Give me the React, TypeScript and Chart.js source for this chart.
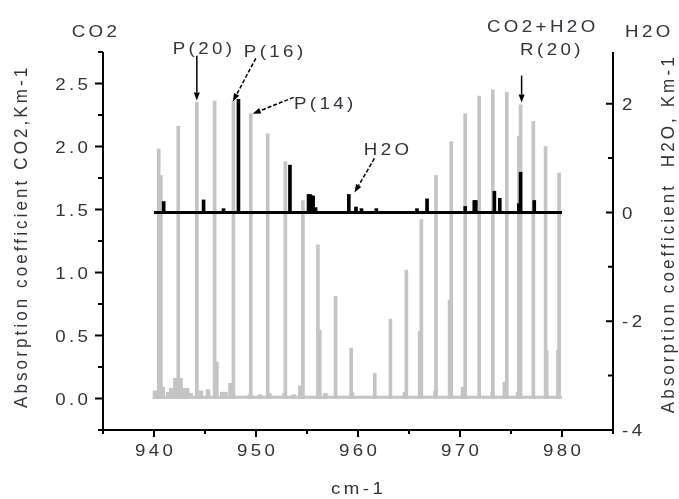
import React, { useEffect, useRef } from 'react';
import { Chart, registerables } from 'chart.js';

Chart.register(...registerables);

// ---- CO2 (left axis) : main absorption lines ----
const CO2_LINE_WN = [940.46, 942.38, 944.2, 945.94, 947.79, 949.49, 951.15, 952.88, 954.6, 956.07, 957.8, 959.33, 961.64, 963.18, 964.74, 966.21, 967.65, 969.14, 970.51, 971.88, 973.22, 974.59, 975.94, 977.19, 978.39, 979.71];
const CO2_LINE_VAL = [1.98, 2.16, 2.35, 2.36, 2.36, 2.26, 2.1, 1.88, 1.57, 1.22, 0.81, 0.4, 0.2, 0.63, 1.02, 1.42, 1.77, 2.04, 2.26, 2.4, 2.45, 2.43, 2.33, 2.2, 2.0, 1.79];
// weaker neighbouring lines (shoulders)
const CO2_SHOULDER_WN = [940.68, 946.16, 956.26, 966.04, 968.98, 975.77, 978.5, 979.6];
const CO2_SHOULDER_VAL = [1.77, 0.29, 0.54, 0.53, 0.78, 2.08, 0.38, 0.38];
// weak bumps on the baseline
const CO2_BUMP_WN = [940.1, 940.85, 941.4, 941.7, 942.1, 942.6, 942.95, 943.25, 943.6, 944.6, 945.3, 946.7, 947.0, 947.5, 949.4, 950.4, 951.3, 952.8, 953.7, 954.35, 956.8, 959.4, 964.6, 967.6, 970.3, 973.2, 974.4, 975.7];
const CO2_BUMP_VAL = [0.06, 0.09, 0.05, 0.08, 0.16, 0.16, 0.08, 0.08, 0.04, 0.06, 0.07, 0.05, 0.05, 0.12, 0.03, 0.03, 0.04, 0.04, 0.03, 0.1, 0.04, 0.05, 0.05, 0.06, 0.09, 0.05, 0.13, 0.05];
const CO2_BASE_WN = [940, 980];
const CO2_BASE_VAL = [0.01, 0.01];

// ---- H2O (right axis) ----
const H2O_LINE_WN = [940.95, 944.86, 946.82, 948.28, 953.33, 955.15, 955.3, 955.45, 955.6, 955.84, 959.1, 959.8, 960.34, 961.8, 965.78, 966.77, 970.51, 971.4, 971.55, 973.37, 973.9, 975.77, 975.94, 977.28];
const H2O_LINE_VAL = [0.2, 0.23, 0.07, 2.08, 0.87, 0.33, 0.33, 0.31, 0.3, 0.09, 0.33, 0.1, 0.07, 0.07, 0.07, 0.25, 0.11, 0.22, 0.22, 0.39, 0.26, 0.16, 0.74, 0.22];
const H2O_BASE_WN = [940, 980];
const H2O_BASE_VAL = [0, 0];

// ---- ticks ----
const CO2_TICKS = [0, 0.5, 1, 1.5, 2, 2.5];
const CO2_TICK_LABELS = ['0.0', '0.5', '1.0', '1.5', '2.0', '2.5'];
const CO2_MINOR = [-0.25, 0.25, 0.75, 1.25, 1.75, 2.25, 2.75];
const H2O_TICKS = [-4, -2, 0, 2];
const H2O_TICK_LABELS = ['-4', '-2', '0', '2'];
const H2O_MINOR = [-3, -1, 1];
const WN_TICKS = [940, 950, 960, 970, 980];
const WN_TICK_LABELS = ['940', '950', '960', '970', '980'];
const WN_MINOR = [935, 945, 955, 965, 975, 985];

// ---- text ----
const X_TITLE = 'cm-1';
const Y_TITLE = 'Absorption coefficient CO2,Km-1';
const Y1_TITLE = 'Absorption coefficient  H2O, Km-1';
const Y_HEAD = 'CO2';
const Y1_HEAD = 'H2O';

// annotations (left edge / baseline in data coordinates: wavenumber, CO2 axis value)
const NOTE_TEXT = ['P(20)', 'P(16)', 'P(14)', 'H2O', 'CO2+H2O', 'R(20)'];
const NOTE_X = [941.83, 948.8, 953.72, 960.57, 972.64, 975.89];
const NOTE_Y = [2.734, 2.714, 2.294, 1.933, 2.909, 2.73];
const ARROW_FROM = [[944.2, 2.72], [949.98, 2.7], [953.69, 2.39], [961.61, 1.905], [976.04, 2.563]];
const ARROW_TO = [[944.2, 2.365], [947.73, 2.357], [949.68, 2.26], [959.66, 1.635], [976.04, 2.35]];
const ARROW_DASHED = [false, true, true, true, false];

const GRAY = '#c4c4c4';
const TEXT = '#33333d';
const FAMILY = '"Liberation Sans", Arial, sans-serif';
const FONT = `17px ${FAMILY}`;
const SPACING = 3.1;
const STRETCH = 1.1;

const pts = (xs: number[], ys: number[]) => xs.map((x, i) => ({ x, y: ys[i] }));

const decor = {
  id: 'decor',
  afterDraw(chart: any) {
    const { ctx, chartArea: a, scales } = chart;
    const sx = scales.x, sy = scales.y, sy1 = scales.y1;
    ctx.save();
    ctx.strokeStyle = '#000';
    ctx.lineWidth = 2;
    // axis lines
    ctx.beginPath();
    ctx.moveTo(a.left, a.top);
    ctx.lineTo(a.left, a.bottom + 1);
    ctx.moveTo(a.left - 1, a.bottom);
    ctx.lineTo(a.right + 1, a.bottom);
    ctx.moveTo(a.right, a.bottom + 1);
    ctx.lineTo(a.right, a.top);
    ctx.stroke();
    // tick marks
    ctx.beginPath();
    CO2_TICKS.forEach(v => { const p = sy.getPixelForValue(v); ctx.moveTo(a.left, p); ctx.lineTo(a.left - 8, p); });
    CO2_MINOR.forEach(v => { const p = sy.getPixelForValue(v); ctx.moveTo(a.left, p); ctx.lineTo(a.left - 5, p); });
    H2O_TICKS.forEach(v => { const p = sy1.getPixelForValue(v); ctx.moveTo(a.right, p); ctx.lineTo(a.right - 7, p); });
    H2O_MINOR.forEach(v => { const p = sy1.getPixelForValue(v); ctx.moveTo(a.right, p); ctx.lineTo(a.right - 5, p); });
    WN_TICKS.forEach(v => { const p = sx.getPixelForValue(v); ctx.moveTo(p, a.bottom); ctx.lineTo(p, a.bottom + 7); });
    WN_MINOR.forEach(v => { const p = sx.getPixelForValue(v); ctx.moveTo(p, a.bottom); ctx.lineTo(p, a.bottom + 4); });
    ctx.stroke();

    // text helpers (slightly widened, letter-spaced glyphs)
    ctx.font = FONT;
    ctx.fillStyle = TEXT;
    ctx.textBaseline = 'alphabetic';
    ctx.textAlign = 'left';
    const width = (s: string) => {
      (ctx as any).letterSpacing = '0px';
      const w = ctx.measureText(s).width + (s.length - 1) * SPACING;
      return w * STRETCH;
    };
    const drawH = (s: string, left: number, base: number) => {
      ctx.save();
      ctx.translate(left, base);
      ctx.scale(STRETCH, 1);
      (ctx as any).letterSpacing = SPACING + 'px';
      ctx.fillText(s, 0, 0);
      ctx.restore();
    };
    const drawV = (s: string, base: number, start: number) => {
      ctx.save();
      ctx.translate(base, start);
      ctx.scale(STRETCH, 1);
      ctx.rotate(-Math.PI / 2);
      (ctx as any).letterSpacing = SPACING + 'px';
      ctx.fillText(s, 0, 0);
      ctx.restore();
    };
    const CAP = 6.1;
    // tick labels
    CO2_TICKS.forEach((v, i) => {
      const s = CO2_TICK_LABELS[i];
      drawH(s, a.left - 15 - width(s), sy.getPixelForValue(v) + CAP);
    });
    H2O_TICKS.forEach((v, i) => {
      drawH(H2O_TICK_LABELS[i], a.right + 9, sy1.getPixelForValue(v) + CAP);
    });
    WN_TICKS.forEach((v, i) => {
      const s = WN_TICK_LABELS[i];
      drawH(s, sx.getPixelForValue(v) - width(s) / 2, a.bottom + 25.5);
    });
    // headers & titles
    drawH(Y_HEAD, a.left - 31.3, a.top - 15.3);
    drawH(Y1_HEAD, a.right + 12, a.top - 15.3);
    drawH(X_TITLE, (a.left + a.right) / 2 - 1 - width(X_TITLE) / 2, a.bottom + 64);
    drawV(Y_TITLE, 26.8, a.bottom - 22);
    drawV(Y1_TITLE, a.right + 60.6, a.bottom - 16.7);
    // annotations
    NOTE_TEXT.forEach((s, i) => drawH(s, sx.getPixelForValue(NOTE_X[i]), sy.getPixelForValue(NOTE_Y[i])));

    // arrows
    ctx.fillStyle = '#000';
    ctx.strokeStyle = '#000';
    ctx.lineWidth = 1.5;
    ARROW_FROM.forEach((f, i) => {
      const x0 = sx.getPixelForValue(f[0]), y0 = sy.getPixelForValue(f[1]);
      const x1 = sx.getPixelForValue(ARROW_TO[i][0]), y1 = sy.getPixelForValue(ARROW_TO[i][1]);
      const ang = Math.atan2(y1 - y0, x1 - x0);
      const L = 8, W = 3;
      const bx = x1 - L * Math.cos(ang), by = y1 - L * Math.sin(ang);
      ctx.setLineDash(ARROW_DASHED[i] ? [4, 2] : []);
      ctx.beginPath();
      ctx.moveTo(x0, y0);
      ctx.lineTo(bx, by);
      ctx.stroke();
      ctx.setLineDash([]);
      ctx.beginPath();
      ctx.moveTo(x1, y1);
      ctx.lineTo(bx + W * Math.sin(ang), by - W * Math.cos(ang));
      ctx.lineTo(bx - W * Math.sin(ang), by + W * Math.cos(ang));
      ctx.closePath();
      ctx.fill();
    });
    ctx.restore();
  },
};

export default function App() {
  const ref = useRef<HTMLCanvasElement>(null);
  useEffect(() => {
    if (!ref.current) return;
    const hidden = { display: false };
    const chart = new Chart(ref.current, {
      type: 'bar',
      data: {
        datasets: [
          { type: 'line', label: 'H2O baseline', data: pts(H2O_BASE_WN, H2O_BASE_VAL), yAxisID: 'y1', borderColor: '#000', borderWidth: 3, pointRadius: 0, order: 0 } as any,
          { type: 'bar', label: 'H2O', data: pts(H2O_LINE_WN, H2O_LINE_VAL), yAxisID: 'y1', backgroundColor: '#000', barThickness: 3, grouped: false, borderWidth: 0, order: 1 } as any,
          { type: 'line', label: 'CO2 baseline', data: pts(CO2_BASE_WN, CO2_BASE_VAL), yAxisID: 'y', borderColor: GRAY, borderWidth: 3, pointRadius: 0, order: 2 } as any,
          { type: 'bar', label: 'CO2 bumps', data: pts(CO2_BUMP_WN, CO2_BUMP_VAL), yAxisID: 'y', backgroundColor: GRAY, barThickness: 4, grouped: false, borderWidth: 0, order: 3 } as any,
          { type: 'bar', label: 'CO2 weak', data: pts(CO2_SHOULDER_WN, CO2_SHOULDER_VAL), yAxisID: 'y', backgroundColor: GRAY, barThickness: 3, grouped: false, borderWidth: 0, order: 4 } as any,
          { type: 'bar', label: 'CO2', data: pts(CO2_LINE_WN, CO2_LINE_VAL), yAxisID: 'y', backgroundColor: GRAY, barThickness: 3, grouped: false, borderWidth: 0, order: 5 } as any,
        ],
      },
      options: {
        responsive: false,
        animation: false,
        events: [],
        layout: { padding: { top: 52, left: 0, right: 0, bottom: 0 } },
        plugins: { legend: { display: false }, tooltip: { enabled: false } },
        scales: {
          x: {
            type: 'linear', position: 'bottom', min: 935, max: 985, offset: false,
            grid: { display: false, drawTicks: false }, border: { display: false }, ticks: hidden,
            afterFit: (s: any) => { s.height = 69; },
          },
          y: {
            type: 'linear', position: 'left', min: -0.25, max: 2.75,
            grid: { display: false, drawTicks: false }, border: { display: false }, ticks: hidden,
            afterFit: (s: any) => { s.width = 103; },
          },
          y1: {
            type: 'linear', position: 'right', min: -4, max: 2.95,
            grid: { display: false, drawTicks: false }, border: { display: false }, ticks: hidden,
            afterFit: (s: any) => { s.width = 66; },
          },
        },
      } as any,
      plugins: [decor],
    });
    return () => chart.destroy();
  }, []);
  return (
    <div style={{ position: 'fixed', left: 0, top: 0, width: 679, height: 499, background: '#fff' }}>
      <canvas ref={ref} width={679} height={499} style={{ display: 'block' }} />
    </div>
  );
}
